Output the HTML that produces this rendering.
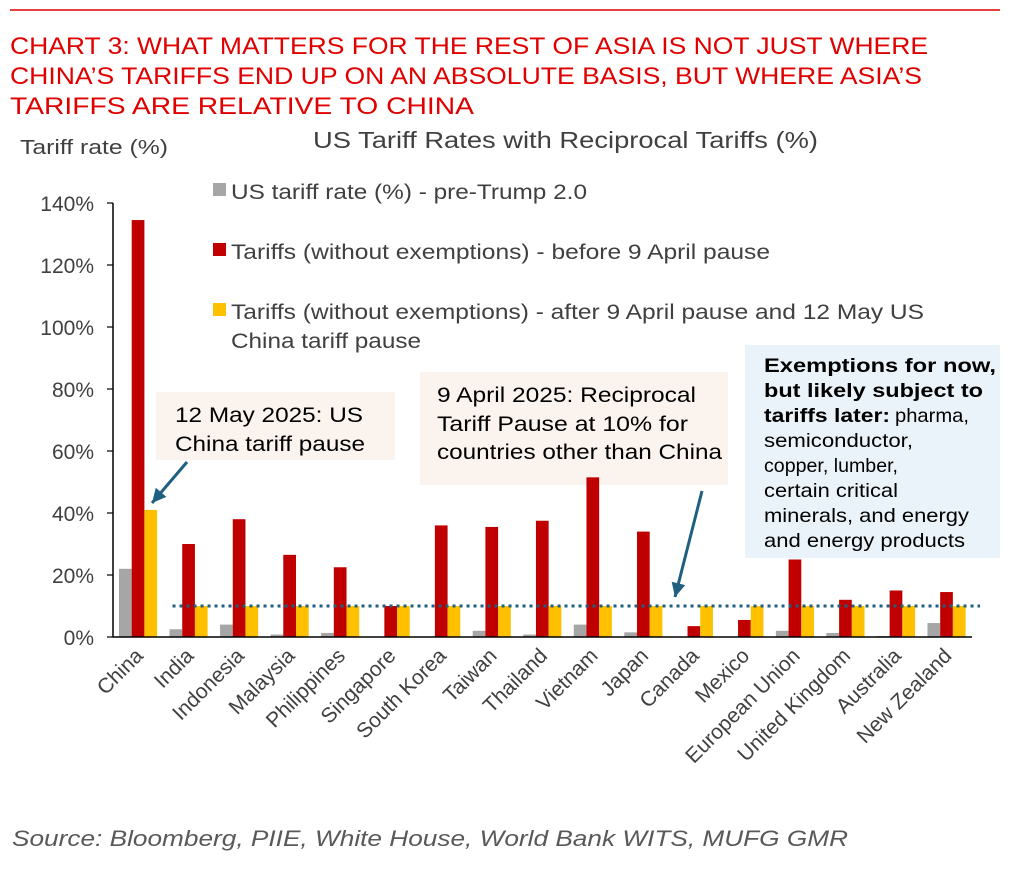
<!DOCTYPE html>
<html><head><meta charset="utf-8"><style>
body{margin:0;background:#fff;font-family:"Liberation Sans",sans-serif}
svg text{font-family:"Liberation Sans",sans-serif}
</style></head><body>
<svg width="1022" height="865">
<line x1="10" y1="10" x2="1000" y2="10" stroke="#d00" stroke-width="1.5"/>
<text fill="#e00000" font-size="24">
<tspan x="10" y="54" textLength="918" lengthAdjust="spacingAndGlyphs">CHART 3: WHAT MATTERS FOR THE REST OF ASIA IS NOT JUST WHERE</tspan>
<tspan x="10" y="84" textLength="912" lengthAdjust="spacingAndGlyphs">CHINA’S TARIFFS END UP ON AN ABSOLUTE BASIS, BUT WHERE ASIA’S</tspan>
<tspan x="10" y="114" textLength="464" lengthAdjust="spacingAndGlyphs">TARIFFS ARE RELATIVE TO CHINA</tspan></text>
<text x="20" y="154" font-size="20" fill="#404040" textLength="148" lengthAdjust="spacingAndGlyphs">Tariff rate (%)</text>
<text x="313" y="148" font-size="23" fill="#404040" textLength="505" lengthAdjust="spacingAndGlyphs">US Tariff Rates with Reciprocal Tariffs (%)</text>
<rect x="156" y="392" width="239" height="68" fill="#fbf3ee"/>
<text font-size="21" fill="#000"><tspan x="175" y="422" textLength="188" lengthAdjust="spacingAndGlyphs">12 May 2025: US</tspan><tspan x="175" y="451" textLength="190" lengthAdjust="spacingAndGlyphs">China tariff pause</tspan></text>
<rect x="420" y="372" width="308" height="113" fill="#fbf3ee"/>
<text font-size="21" fill="#000"><tspan x="437" y="402" textLength="259" lengthAdjust="spacingAndGlyphs">9 April 2025: Reciprocal</tspan><tspan x="437" y="431" textLength="251" lengthAdjust="spacingAndGlyphs">Tariff Pause at 10% for</tspan><tspan x="437" y="459" textLength="285" lengthAdjust="spacingAndGlyphs">countries other than China</tspan></text>
<rect x="745" y="345" width="255" height="213" fill="#eaf3fa"/>
<text font-size="19.5" fill="#000">
<tspan x="764" y="372" font-weight="bold" textLength="232" lengthAdjust="spacingAndGlyphs">Exemptions for now,</tspan>
<tspan x="764" y="397" font-weight="bold" textLength="219" lengthAdjust="spacingAndGlyphs">but likely subject to</tspan>
<tspan x="764" y="422" font-weight="bold" textLength="126" lengthAdjust="spacingAndGlyphs">tariffs later:</tspan>
<tspan x="895" y="422" textLength="74" lengthAdjust="spacingAndGlyphs">pharma,</tspan>
<tspan x="764" y="447" textLength="149" lengthAdjust="spacingAndGlyphs">semiconductor,</tspan>
<tspan x="764" y="472" textLength="134" lengthAdjust="spacingAndGlyphs">copper, lumber,</tspan>
<tspan x="764" y="497" textLength="134" lengthAdjust="spacingAndGlyphs">certain critical</tspan>
<tspan x="764" y="522" textLength="205" lengthAdjust="spacingAndGlyphs">minerals, and energy</tspan>
<tspan x="764" y="547" textLength="201" lengthAdjust="spacingAndGlyphs">and energy products</tspan></text>
<g id="legend">
<rect x="213" y="183" width="13" height="13" fill="#a6a6a6"/>
<text x="231" y="199" font-size="21" fill="#404040" textLength="356" lengthAdjust="spacingAndGlyphs">US tariff rate (%) - pre-Trump 2.0</text>
<rect x="213" y="243" width="13" height="13" fill="#c00000"/>
<text x="231" y="259" font-size="21" fill="#404040" textLength="539" lengthAdjust="spacingAndGlyphs">Tariffs (without exemptions) - before 9 April pause</text>
<rect x="213" y="303" width="13" height="13" fill="#ffc000"/>
<text font-size="21" fill="#404040"><tspan x="231" y="319" textLength="693" lengthAdjust="spacingAndGlyphs">Tariffs (without exemptions) - after 9 April pause and 12 May US</tspan><tspan x="231" y="348" textLength="190" lengthAdjust="spacingAndGlyphs">China tariff pause</tspan></text>
</g>
<g id="plot"></g>
<text x="12" y="846" font-size="22" font-style="italic" fill="#595959" textLength="836" lengthAdjust="spacingAndGlyphs">Source: Bloomberg, PIIE, White House, World Bank WITS, MUFG GMR</text>
</svg>
<script>
const categories=["China","India","Indonesia","Malaysia","Philippines","Singapore","South Korea","Taiwan","Thailand","Vietnam","Japan","Canada","Mexico","European Union","United Kingdom","Australia","New Zealand"];
const preTrump=[22,2.5,4,0.8,1.3,0,0,2,0.8,4,1.5,0,0,2,1.3,0.3,4.5];
const beforePause=[134.5,30,38,26.5,22.5,10,36,35.5,37.5,51.5,34,3.5,5.5,25,12,15,14.5];
const afterPause=[41,10,10,10,10,10,10,10,10,10,10,10,10,10,10,10,10];
const yTicks=[0,20,40,60,80,100,120,140];
const pauseLevel=10;
const NS="http://www.w3.org/2000/svg";
const g=document.getElementById('plot');
const X0=113,X1=972,Y0=637,PER=62/20;
const bw=(X1-X0)/categories.length;
const y=v=>Y0-v*PER;
const xc=i=>X0+bw*i;
function mk(t,a){const e=document.createElementNS(NS,t);for(const k in a)e.setAttribute(k,a[k]);g.appendChild(e);return e;}
const ax=mk('line',{x1:X0,y1:y(0),x2:X0,y2:y(140),stroke:'#000','stroke-width':1.5});


yTicks.forEach(t=>{
 const l=mk('line',{x1:X0-6,x2:X0,y1:y(t),y2:y(t),stroke:'#000','stroke-width':1.2});
 
 
 const tx=mk('text',{x:X0-19,y:y(t)+8,'font-size':21,fill:'#404040','text-anchor':'end'});
 tx.textContent=t+'%';
 
 
});
const series=[[preTrump,'#a6a6a6','bar-pre-trump'],[beforePause,'#c00000','bar-before-pause'],[afterPause,'#ffc000','bar-after-pause']];
const w=12.7;
categories.forEach((c,i)=>{
 series.forEach((s,j)=>{
  const v=s[0][i];
  const r=mk('rect',{x:xc(i)+6+j*w,y:y(v),width:w,height:Y0-y(v),fill:s[1]});
  
  
 });
 const cx=xc(i)+bw/2+6;
 const tx=mk('text',{x:cx,y:Y0+20,'font-size':21,fill:'#404040','text-anchor':'end',transform:`rotate(-45 ${cx} ${Y0+20})`});
 tx.textContent=c;
 
 
});
const xa=mk('line',{x1:X0,y1:Y0,x2:X1,y2:Y0,stroke:'#000','stroke-width':1.5});


const dl=mk('line',{x1:xc(1)+9,x2:980,y1:y(pauseLevel),y2:y(pauseLevel),stroke:'#1f5f7f','stroke-width':3,'stroke-dasharray':'3 4'});


function arrow(x1,y1,x2,y2,name){
 const l=mk('line',{x1,y1,x2,y2,stroke:'#1f5f7f','stroke-width':3});
 
 
 const a=Math.atan2(y2-y1,x2-x1),L=14,W=7;
 const p=[[x2,y2],[x2-L*Math.cos(a)+W*Math.sin(a),y2-L*Math.sin(a)-W*Math.cos(a)],[x2-L*Math.cos(a)-W*Math.sin(a),y2-L*Math.sin(a)+W*Math.cos(a)]];
 const h=mk('polygon',{points:p.map(q=>q.join(',')).join(' '),fill:'#1f5f7f'});
 
 
}
arrow(187,462,152,503,'arrow-may');
arrow(702,491,675,597,'arrow-april');
</script>
</body></html>
